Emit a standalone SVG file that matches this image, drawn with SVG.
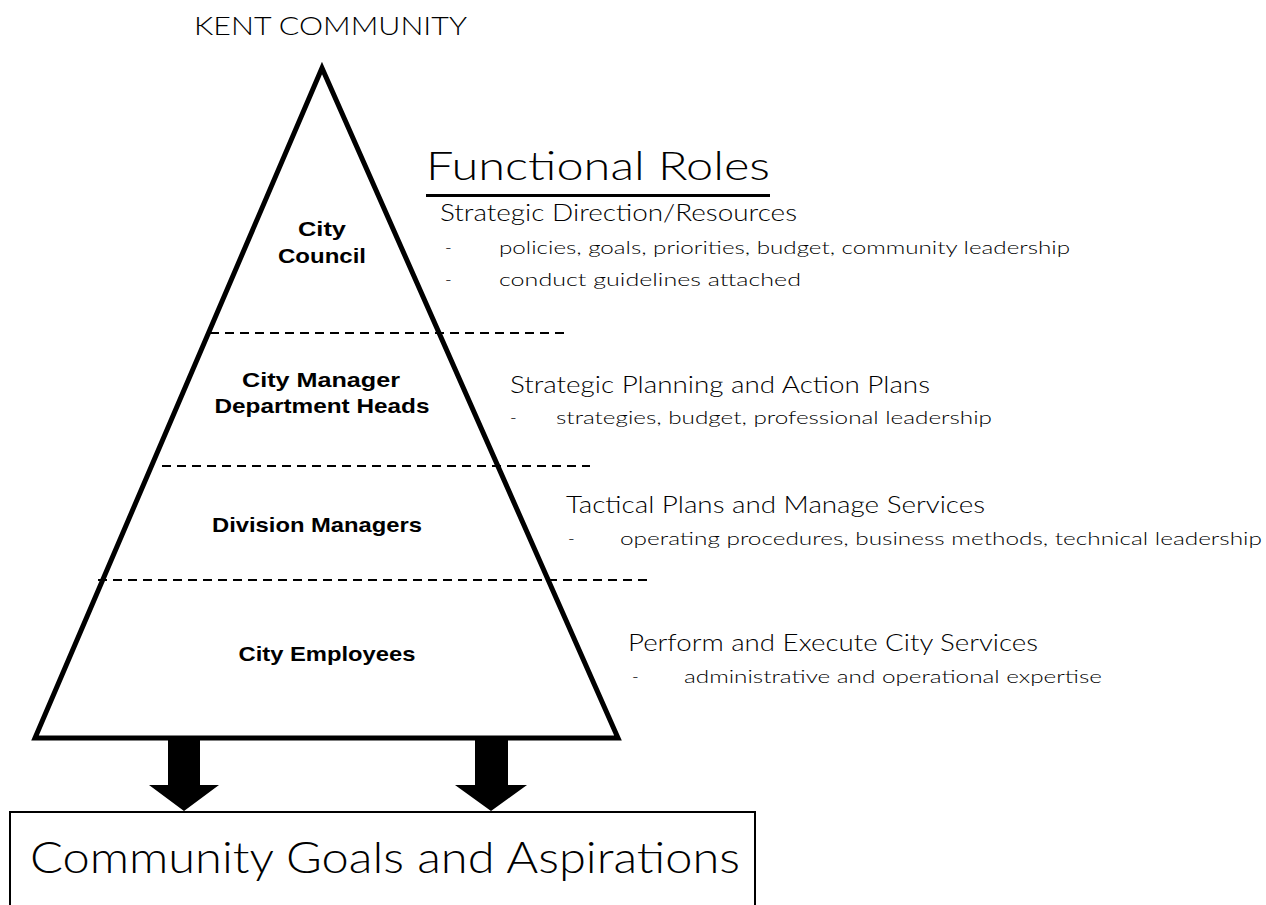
<svg xmlns="http://www.w3.org/2000/svg" width="1266" height="905" viewBox="0 0 1266 905">
<style>
.t{font-family:Lato,"Liberation Sans",Arial,sans-serif;font-weight:300;fill:#000}
.h{font-size:23px}
.s{font-size:18px}
.b{font-family:"Liberation Sans",Arial,sans-serif;font-weight:bold;font-size:21px;text-anchor:middle;fill:#000}
.dash{stroke:#000;stroke-width:2;stroke-dasharray:9 6;fill:none}
</style>
<rect width="1266" height="905" fill="#fff"/>
<text class="t" x="194" y="35" font-size="26" textLength="273" lengthAdjust="spacingAndGlyphs">KENT COMMUNITY</text>
<g id="pyramid">
<polygon points="322,68 35,738 618,738" fill="none" stroke="#000" stroke-width="5" stroke-linejoin="miter"/>
</g>
<g id="dividers">
<line class="dash" x1="210" y1="333" x2="570" y2="333"/>
<line class="dash" x1="162" y1="466" x2="590" y2="466"/>
<line class="dash" x1="98" y1="580" x2="652" y2="580"/>
</g>
<g id="title">
<text class="t" x="426" y="180" font-size="40" textLength="344" lengthAdjust="spacingAndGlyphs">Functional Roles</text>
<rect x="426" y="194" width="344" height="3" fill="#000"/>
</g>
<g id="council">
<text class="b" x="322" y="236" textLength="48" lengthAdjust="spacingAndGlyphs">City</text>
<text class="b" x="322" y="263" textLength="88" lengthAdjust="spacingAndGlyphs">Council</text>
</g>
<g id="council-role">
<text class="t h" x="440" y="221" textLength="357" lengthAdjust="spacingAndGlyphs">Strategic Direction/Resources</text>
<text class="t s" x="445" y="254">-</text>
<text class="t s" x="499" y="254" textLength="571" lengthAdjust="spacingAndGlyphs">policies, goals, priorities, budget, community leadership</text>
<text class="t s" x="445" y="286">-</text>
<text class="t s" x="499" y="286" textLength="302" lengthAdjust="spacingAndGlyphs">conduct guidelines attached</text>
</g>
<g id="manager">
<text class="b" x="321" y="387" textLength="158" lengthAdjust="spacingAndGlyphs">City Manager</text>
<text class="b" x="322" y="413" textLength="215" lengthAdjust="spacingAndGlyphs">Department Heads</text>
</g>
<g id="manager-role">
<text class="t h" x="510" y="393" textLength="420" lengthAdjust="spacingAndGlyphs">Strategic Planning and Action Plans</text>
<text class="t s" x="510" y="424">-</text>
<text class="t s" x="556" y="424" textLength="436" lengthAdjust="spacingAndGlyphs">strategies, budget, professional leadership</text>
</g>
<g id="division">
<text class="b" x="317" y="532" textLength="210" lengthAdjust="spacingAndGlyphs">Division Managers</text>
</g>
<g id="division-role">
<text class="t h" x="566" y="513" textLength="419" lengthAdjust="spacingAndGlyphs">Tactical Plans and Manage Services</text>
<text class="t s" x="568" y="545">-</text>
<text class="t s" x="620" y="545" textLength="642" lengthAdjust="spacingAndGlyphs">operating procedures, business methods, technical leadership</text>
</g>
<g id="employees">
<text class="b" x="327" y="661" textLength="177" lengthAdjust="spacingAndGlyphs">City Employees</text>
</g>
<g id="employees-role">
<text class="t h" x="628" y="651" textLength="410" lengthAdjust="spacingAndGlyphs">Perform and Execute City Services</text>
<text class="t s" x="632" y="683">-</text>
<text class="t s" x="684" y="683" textLength="418" lengthAdjust="spacingAndGlyphs">administrative and operational expertise</text>
</g>
<g id="connectors">
<polygon points="168,740 200,740 200,785 219,785 184,811 149,785 168,785" fill="#000"/>
<polygon points="475,740 508,740 508,785 527,785 491,811 455,785 475,785" fill="#000"/>
</g>
<g id="goals">
<rect x="10" y="812" width="745" height="100" fill="#fff" stroke="#000" stroke-width="2"/>
<text class="t" x="30" y="873" font-size="44" textLength="710" lengthAdjust="spacingAndGlyphs">Community Goals and Aspirations</text>
</g>
</svg>
